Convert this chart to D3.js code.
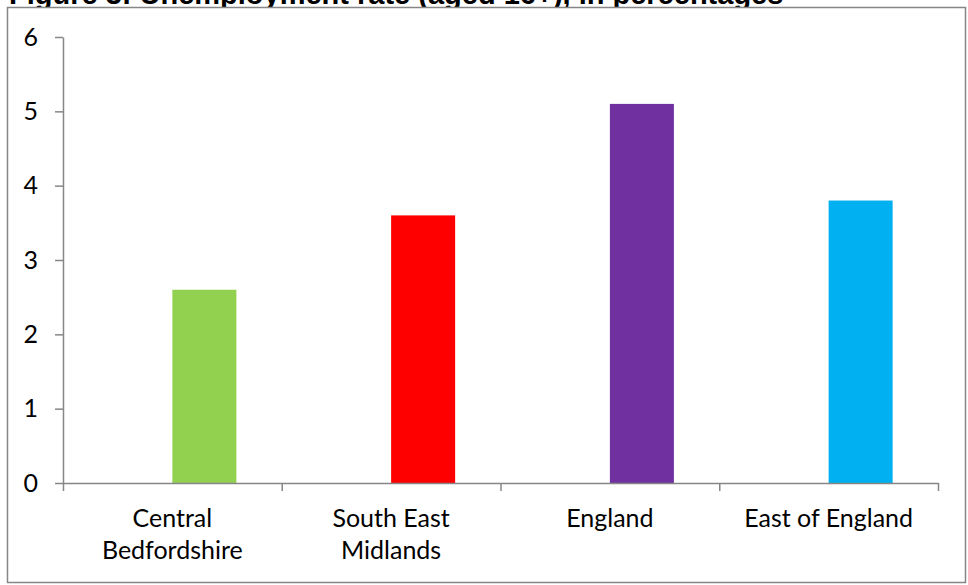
<!DOCTYPE html>
<html>
<head>
<meta charset="utf-8">
<script src="https://cdn.jsdelivr.net/npm/d3@7"></script>
<style>
  html, body { margin: 0; padding: 0; background: #fff; }
  svg { display: block; }
</style>
</head>
<body>
<svg id="chart" width="968" height="585"></svg>
<script>
// Unemployment rate by area, in percentages
const categories = ["Central Bedfordshire", "South East Midlands", "England", "East of England"];
const values = [2.6, 3.6, 5.1, 3.8];
const barColors = ["#92D050", "#FF0000", "#7030A0", "#00B0F0"];
const tickLabels = [["Central", "Bedfordshire"], ["South East", "Midlands"], ["England"], ["East of England"]];
const yTicks = [0, 1, 2, 3, 4, 5, 6];
const title = "Figure 3: Unemployment rate (aged 16+), in percentages";

const svg = d3.select("#chart");
const axisColor = "#868686";
const labelFont = "Lato, 'Open Sans', sans-serif";

const plot = { left: 63, right: 938, top: 37, bottom: 483 };

// Title (sits above the chart frame, partly hidden behind it)
svg.append("text")
  .attr("x", 9)
  .attr("y", 4)
  .attr("font-family", "'Liberation Sans', Arial, sans-serif")
  .attr("font-weight", "bold")
  .attr("font-size", 29)
  .attr("fill", "#000")
  .text(title);

// Chart frame
svg.append("rect")
  .attr("x", 7.5).attr("y", 7.5)
  .attr("width", 958).attr("height", 575)
  .attr("fill", "#fff")
  .attr("stroke", axisColor)
  .attr("stroke-width", 1.5);

const x = d3.scaleBand()
  .domain(categories)
  .range([plot.left, plot.right])
  .padding(0);

const y = d3.scaleLinear()
  .domain([0, 6])
  .range([plot.bottom, plot.top]);

// Each category holds two slots; the bar occupies the right-hand slot
const slot = x.bandwidth() * 0.2926;

svg.append("g")
  .selectAll("rect")
  .data(categories)
  .join("rect")
  .attr("x", d => x(d) + x.bandwidth() / 2)
  .attr("y", (d, i) => y(values[i]))
  .attr("width", slot)
  .attr("height", (d, i) => y(0) - y(values[i]))
  .attr("fill", (d, i) => barColors[i]);

// Y axis
const yAxis = svg.append("g")
  .attr("transform", `translate(${plot.left},0)`)
  .call(d3.axisLeft(y).tickValues(yTicks).tickFormat(d3.format("d")).tickSize(8).tickSizeOuter(0).tickPadding(17));
yAxis.select(".domain").attr("stroke", axisColor).attr("stroke-width", 1.5);
yAxis.selectAll(".tick line").attr("stroke", axisColor).attr("stroke-width", 1.5);
yAxis.selectAll(".tick text")
  .attr("font-family", labelFont)
  .attr("font-size", 25)
  .attr("fill", "#000");

// X axis: tick marks at category boundaries
const xEdges = d3.scaleLinear().domain([0, categories.length]).range([plot.left, plot.right]);
const xAxis = svg.append("g")
  .attr("transform", `translate(0,${plot.bottom})`)
  .call(d3.axisBottom(xEdges).tickValues(d3.range(categories.length + 1)).tickFormat("").tickSize(8).tickSizeOuter(0));
xAxis.select(".domain").attr("stroke", axisColor).attr("stroke-width", 1.5);
xAxis.selectAll(".tick line").attr("stroke", axisColor).attr("stroke-width", 1.5);

// Category labels, wrapped onto lines
const labels = svg.append("g")
  .attr("font-family", labelFont)
  .attr("font-size", 25)
  .attr("fill", "#000")
  .attr("text-anchor", "middle");
labels.selectAll("text")
  .data(categories)
  .join("text")
  .attr("x", d => x(d) + x.bandwidth() / 2)
  .attr("y", 527)
  .each(function (d, i) {
    d3.select(this).selectAll("tspan")
      .data(tickLabels[i])
      .join("tspan")
      .attr("x", x(d) + x.bandwidth() / 2)
      .attr("dy", (t, j) => j === 0 ? 0 : 32)
      .text(t => t);
  });
</script>
</body>
</html>
